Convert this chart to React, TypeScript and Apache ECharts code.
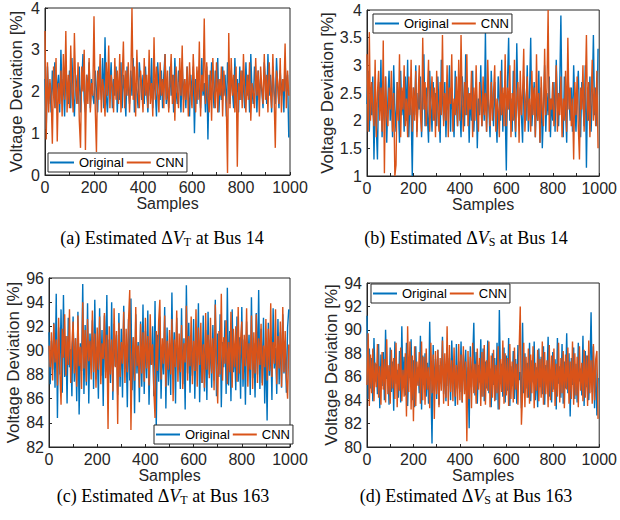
import React, { useEffect, useRef } from "react";
import * as echarts from "echarts";

// Sample spacing between stored points (samples 0..995)
const SAMPLE_STEP = 5;

// (a) Bus 14, ΔV_T
const aOriginal = [
  2.3, 1.1, 2.6, 1.7, 2.2, 1.5, 2.5, 1.9, 2.7, 1.6, 2.1, 2.4, 1.5, 3.0, 1.8, 2.3, 1.4, 2.6, 2.0, 1.7,
  2.5, 1.6, 2.8, 1.9, 1.4, 2.4, 2.1, 1.7, 2.6, 1.5, 2.2, 2.9, 1.8, 1.5, 2.4, 2.0, 2.7, 1.6, 2.3, 1.9,
  1.7, 2.5, 2.0, 1.5, 2.6, 2.2, 1.8, 2.8, 1.6, 3.3, 1.9, 1.5, 2.4, 2.1, 2.7, 1.6, 2.3, 1.9, 2.6, 1.5,
  2.2, 1.8, 2.7, 1.6, 2.4, 2.0, 1.4, 2.6, 2.1, 1.7, 2.5, 1.9, 2.8, 1.5, 2.2, 2.0, 1.6, 2.7, 2.3, 1.8,
  2.4, 1.7, 2.6, 2.0, 1.5, 2.5, 1.9, 2.8, 1.6, 2.3, 2.0, 1.4, 2.7, 2.1, 1.8, 2.5, 1.6, 2.4, 2.9, 1.7,
  2.1, 1.6, 2.6, 1.9, 2.4, 1.5, 2.8, 2.0, 1.7, 2.5, 2.2, 1.5, 2.7, 1.8, 2.3, 1.6, 2.6, 2.0, 1.4, 2.4,
  1.9, 2.6, 1.0, 2.3, 1.7, 2.5, 2.0, 1.6, 2.8, 1.9, 2.2, 1.5, 2.6, 0.85, 2.4, 1.8, 2.7, 2.1, 1.6, 2.5,
  2.0, 2.8, 1.5, 2.3, 1.8, 2.6, 1.9, 2.4, 1.4, 2.7, 2.1, 1.7, 2.5, 2.0, 1.6, 2.8, 1.9, 2.3, 1.5, 2.6,
  1.8, 2.5, 2.1, 1.6, 2.7, 1.9, 2.4, 1.5, 2.9, 2.0, 1.7, 2.6, 2.2, 1.5, 2.5, 1.8, 2.3, 2.0, 1.6, 2.7,
  2.2, 1.7, 2.9, 1.9, 2.4, 1.5, 2.6, 2.0, 1.7, 2.8, 2.1, 1.6, 2.5, 1.9, 2.3, 1.5, 2.7, 2.0, 2.4, 0.9,
];
const aCNN = [
  3.45, 0.85, 2.7, 1.5, 2.3, 1.9, 0.75, 2.6, 1.6, 2.8, 0.8, 2.2, 1.7, 2.5, 1.4, 2.9, 1.8, 3.45, 1.5, 2.4,
  1.6, 3.1, 2.0, 1.5, 3.4, 2.1, 1.7, 2.7, 1.3, 0.65, 2.6, 2.0, 3.0, 0.6, 2.4, 1.7, 2.8, 1.5, 2.2, 1.9,
  3.8, 1.6, 0.55, 2.5, 1.8, 2.9, 1.5, 2.3, 2.0, 1.4, 2.7, 1.9, 3.1, 1.6, 2.4, 2.1, 1.5, 2.8, 1.8, 2.5,
  1.7, 2.9, 1.5, 2.3, 3.2, 1.6, 2.5, 1.9, 2.7, 1.5, 2.2, 4.0, 1.8, 2.6, 1.4, 3.0, 2.0, 1.6, 2.5, 2.1,
  1.5, 2.8, 1.9, 2.4, 1.6, 3.0, 1.7, 2.2, 1.4, 3.3, 1.8, 2.6, 2.0, 1.5, 2.7, 1.9, 2.3, 1.6, 2.9, 1.8,
  2.5, 1.5, 2.2, 2.9, 1.7, 2.4, 1.3, 2.6, 2.0, 1.6, 2.8, 1.9, 3.1, 1.5, 2.3, 1.8, 2.6, 1.4, 2.7, 2.0,
  1.6, 2.9, 2.1, 1.5, 2.6, 1.8, 3.2, 1.4, 2.4, 2.0, 3.75, 1.7, 2.7, 1.9, 1.5, 2.5, 1.3, 2.8, 2.0, 1.6,
  2.7, 1.5, 2.3, 1.9, 2.6, 1.4, 2.5, 2.0, 1.7, 0.05, 3.4, 1.6, 2.8, 1.9, 2.4, 1.5, 2.6, 0.2, 2.2, 1.8,
  2.5, 1.6, 2.9, 2.0, 1.5, 2.4, 1.8, 2.7, 1.3, 2.2, 2.0, 1.6, 2.8, 1.9, 2.5, 1.4, 2.6, 2.1, 1.7, 2.9,
  1.8, 2.4, 1.5, 2.7, 2.0, 1.6, 2.9, 1.9, 0.65, 2.5, 2.2, 1.7, 2.8, 1.5, 2.3, 2.0, 3.15, 1.6, 2.5, 1.9,
];

// (b) Bus 14, ΔV_S
const bOriginal = [
  2.3, 2.9, 1.8, 2.6, 2.1, 2.8, 1.3, 2.4, 1.9, 1.3, 2.7, 2.2, 3.1, 1.7, 2.5, 2.0, 2.8, 1.6, 2.4, 2.9,
  2.0, 2.6, 1.7, 3.0, 2.2, 1.8, 2.7, 2.3, 1.6, 2.9, 2.1, 2.5, 1.8, 2.8, 2.0, 3.1, 1.7, 2.4, 2.2, 1.0,
  2.6, 2.1, 3.0, 1.8, 2.5, 2.2, 2.8, 1.7, 2.4, 3.2, 1.9, 2.6, 2.1, 1.6, 2.9, 2.3, 1.8, 2.7, 2.0, 2.5,
  1.9, 2.8, 2.2, 1.6, 3.1, 2.4, 2.0, 2.7, 1.7, 2.5, 2.2, 3.0, 1.8, 2.6, 2.1, 1.7, 2.9, 2.3, 1.9, 2.6,
  2.2, 1.7, 2.8, 2.4, 1.9, 3.2, 2.1, 2.6, 1.6, 2.5, 2.0, 2.9, 1.8, 2.3, 2.7, 1.5, 2.4, 2.1, 3.0, 1.9,
  2.5, 2.0, 3.6, 1.8, 2.6, 2.2, 1.7, 2.9, 2.3, 1.9, 2.7, 2.1, 1.6, 2.8, 2.4, 2.0, 3.1, 1.8, 2.5, 2.2,
  1.1, 2.7, 3.5, 2.0, 2.4, 1.8, 2.9, 2.2, 1.7, 3.4, 2.3, 1.9, 2.6, 2.1, 1.6, 2.8, 2.4, 2.0, 3.0, 1.8,
  2.5, 3.5, 1.9, 2.3, 2.7, 1.7, 2.4, 2.0, 2.9, 1.6, 2.6, 1.5, 2.2, 3.0, 1.8, 2.5, 2.1, 2.8, 1.7, 2.4,
  2.0, 2.7, 1.8, 3.1, 2.3, 1.9, 2.6, 3.9, 2.1, 1.7, 2.8, 2.2, 1.6, 2.9, 2.4, 2.0, 2.6, 1.8, 3.0, 2.3,
  1.8, 2.5, 2.9, 2.1, 1.7, 2.7, 2.3, 1.9, 3.0, 1.15, 2.6, 2.0, 2.8, 1.8, 2.4, 3.55, 2.1, 2.6, 1.9, 3.3,
];
const bCNN = [
  3.2, 1.8, 3.6, 2.0, 2.7, 2.2, 1.9, 3.1, 1.7, 2.5, 2.9, 2.0, 2.6, 1.8, 3.45, 1.05, 2.8, 2.1, 1.9, 2.6,
  2.2, 2.9, 1.8, 2.5, 1.0, 1.2, 2.7, 2.0, 3.2, 1.7, 2.6, 2.2, 3.0, 1.9, 2.4, 1.7, 2.8, 2.1, 3.1, 1.8,
  2.6, 2.0, 2.9, 1.7, 2.4, 3.0, 2.1, 1.8, 3.5, 2.2, 2.7, 1.9, 2.5, 3.1, 1.8, 2.3, 2.8, 2.0, 2.6, 1.7,
  2.9, 2.2, 1.8, 2.7, 2.1, 3.55, 1.9, 2.5, 2.0, 3.0, 1.7, 2.6, 2.3, 3.2, 1.8, 2.4, 2.1, 2.8, 1.9, 3.1,
  2.0, 3.55, 2.3, 1.8, 2.7, 2.1, 3.2, 1.9, 2.5, 2.2, 2.9, 1.7, 2.6, 2.0, 3.0, 2.2, 1.8, 2.7, 2.3, 1.9,
  2.8, 2.1, 2.5, 1.8, 3.1, 2.3, 1.9, 2.7, 2.0, 2.5, 3.0, 1.8, 2.4, 2.2, 1.7, 2.9, 2.1, 2.6, 1.9, 3.2,
  1.9, 2.6, 2.2, 3.0, 1.7, 2.5, 2.0, 3.1, 1.8, 2.4, 2.7, 1.6, 2.9, 2.1, 2.5, 3.3, 1.8, 2.3, 2.8, 2.0,
  2.4, 1.8, 2.9, 2.1, 2.6, 1.7, 3.2, 2.0, 2.5, 1.6, 2.8, 2.2, 1.9, 3.3, 2.1, 2.6, 4.0, 1.8, 2.4, 2.2,
  2.7, 1.9, 2.3, 3.0, 1.8, 2.5, 2.1, 2.8, 1.7, 2.4, 2.0, 2.9, 1.8, 3.5, 2.2, 2.6, 1.9, 2.4, 1.3, 2.7,
  2.1, 2.8, 1.9, 1.3, 2.6, 2.2, 3.0, 1.8, 2.5, 3.55, 2.0, 2.7, 1.7, 2.4, 3.1, 2.0, 2.6, 1.9, 2.9, 1.5,
];

// (c) Bus 163, ΔV_T
const cOriginal = [
  91.5, 87.2, 90.8, 88.4, 92.3, 86.9, 94.7, 84.4, 91.9, 88.0, 93.4, 86.5, 94.6, 87.8, 91.2, 85.6, 92.7, 88.6, 90.1, 86.2,
  92.8, 87.4, 91.0, 85.8, 93.2, 84.7, 90.6, 88.3, 95.5, 86.4, 92.1, 87.1, 93.9, 85.6, 91.4, 88.9, 92.5, 86.8, 94.2, 87.6,
  90.3, 86.0, 93.5, 87.9, 91.7, 85.4, 92.9, 88.2, 94.6, 86.6, 90.9, 87.3, 94.0, 85.9, 92.2, 88.7, 91.3, 86.3, 93.1, 87.0,
  91.8, 86.1, 93.7, 88.5, 90.4, 85.3, 92.6, 87.5, 94.3, 86.7, 91.1, 84.8, 93.0, 88.1, 90.7, 85.7, 92.4, 87.0, 93.8, 86.4,
  91.6, 87.7, 93.3, 85.5, 90.2, 88.8, 92.0, 86.2, 94.1, 83.5, 91.3, 87.4, 92.8, 86.0, 90.5, 88.0, 93.6, 85.2, 91.9, 87.1,
  90.6, 86.3, 94.8, 87.6, 91.5, 85.6, 92.7, 88.4, 90.0, 86.8, 93.5, 87.2, 91.0, 85.1, 95.4, 88.1, 92.3, 86.5, 90.8, 87.9,
  92.6, 86.0, 91.2, 88.3, 93.9, 85.7, 90.4, 87.3, 92.9, 86.6, 91.7, 85.9, 93.2, 88.0, 90.9, 86.9, 92.1, 87.5, 94.2, 86.2,
  91.4, 87.8, 93.0, 85.3, 90.7, 88.6, 92.5, 86.4, 95.2, 87.1, 91.6, 85.8, 93.4, 88.2, 90.3, 86.7, 92.8, 87.4, 91.1, 86.0,
  93.6, 87.0, 90.9, 85.5, 92.4, 88.4, 91.3, 86.3, 94.4, 87.7, 90.6, 86.1, 93.1, 88.0, 95.0, 86.8, 91.8, 87.3, 92.7, 85.6,
  90.5, 84.2, 92.3, 87.9, 91.0, 85.9, 93.5, 88.5, 90.2, 86.4, 92.6, 87.2, 91.5, 86.9, 93.0, 88.1, 90.8, 86.5, 91.9, 93.4,
];
const cCNN = [
  90.4, 88.6, 91.5, 87.5, 92.2, 89.0, 90.9, 87.1, 92.7, 88.3, 85.5, 91.8, 89.4, 93.0, 87.9, 91.2, 88.8, 93.4, 87.3, 90.6,
  92.4, 88.1, 91.0, 87.0, 92.9, 88.7, 90.3, 86.8, 94.0, 88.5, 91.7, 87.4, 92.6, 89.1, 90.8, 87.6, 93.3, 88.2, 91.4, 86.9,
  91.9, 88.4, 92.8, 87.2, 90.6, 89.3, 93.1, 87.7, 91.3, 83.5, 92.0, 88.0, 90.9, 86.6, 93.5, 88.6, 91.6, 83.9, 92.3, 87.8,
  90.7, 88.9, 93.2, 87.3, 91.8, 88.2, 92.5, 95.0, 83.4, 89.6, 91.1, 87.5, 93.6, 88.7, 90.4, 86.9, 92.2, 88.1, 91.5, 87.4,
  92.7, 88.5, 91.2, 87.1, 93.0, 88.8, 90.5, 86.7, 84.4, 91.6, 88.3, 92.4, 94.2, 87.6, 91.0, 88.9, 92.9, 87.0, 90.8, 88.4,
  91.7, 88.0, 92.6, 85.8, 90.9, 88.6, 93.3, 87.4, 91.4, 88.2, 92.1, 86.8, 90.6, 89.0, 93.7, 87.5, 91.2, 88.7, 92.8, 87.2,
  90.8, 88.3, 93.4, 87.0, 91.9, 88.8, 92.3, 87.3, 90.5, 86.9, 93.1, 88.4, 91.3, 87.7, 92.7, 88.1, 91.0, 86.7, 93.8, 88.5,
  85.6, 91.6, 88.0, 94.7, 87.5, 91.1, 88.9, 92.5, 87.2, 90.7, 88.2, 93.2, 86.9, 91.8, 88.6, 92.0, 87.4, 93.6, 88.1, 90.9,
  92.4, 87.6, 91.3, 88.7, 93.5, 87.0, 90.6, 88.4, 92.9, 86.8, 91.5, 88.1, 93.0, 87.3, 91.0, 88.8, 92.2, 87.1, 90.4, 88.6,
  92.6, 87.5, 91.8, 88.3, 93.9, 87.8, 90.7, 88.9, 93.4, 87.2, 91.2, 88.5, 92.4, 87.0, 93.6, 88.2, 91.6, 87.7, 86.0, 90.5,
];

// (d) Bus 163, ΔV_S
const dOriginal = [
  91.2, 84.1, 88.4, 85.0, 87.6, 83.9, 89.3, 85.6, 87.1, 84.5, 88.8, 83.3, 87.9, 85.2, 88.1, 84.0, 90.0, 85.8, 86.9, 83.6,
  88.5, 84.7, 87.3, 83.1, 89.0, 85.4, 86.6, 84.2, 88.2, 83.8, 90.3, 85.1, 87.7, 84.4, 88.9, 83.5, 87.0, 85.9, 89.2, 84.0,
  87.4, 83.4, 88.6, 85.3, 86.8, 84.6, 89.5, 83.2, 87.8, 85.7, 88.0, 84.3, 87.2, 83.7, 90.7, 85.5, 80.3, 88.7, 84.8, 87.5,
  84.1, 88.3, 83.6, 87.0, 85.4, 89.4, 84.5, 86.9, 83.9, 88.5, 85.2, 87.6, 84.0, 89.1, 85.8, 86.6, 83.5, 88.8, 85.0, 87.3,
  84.7, 89.0, 83.8, 87.9, 85.6, 88.3, 84.2, 86.8, 81.6, 88.6, 85.1, 87.4, 90.6, 84.4, 88.1, 83.7, 87.0, 85.5, 89.2, 84.3,
  88.4, 83.9, 87.3, 85.0, 89.1, 84.6, 86.7, 83.4, 88.0, 85.3, 87.6, 84.0, 88.9, 83.2, 91.7, 85.6, 87.1, 84.3, 88.5, 83.8,
  87.8, 84.8, 89.3, 83.5, 86.9, 85.2, 88.2, 84.1, 87.5, 83.7, 88.7, 85.7, 86.4, 83.3, 90.6, 84.6, 88.0, 85.0, 87.2, 84.2,
  88.9, 83.9, 87.4, 85.5, 89.0, 84.0, 86.8, 83.4, 88.4, 85.1, 87.7, 84.5, 88.6, 83.6, 87.0, 85.8, 89.4, 84.3, 86.6, 83.8,
  88.1, 84.9, 87.5, 83.2, 89.3, 85.4, 86.9, 84.2, 88.8, 83.7, 87.3, 85.0, 89.7, 84.6, 88.0, 82.6, 87.6, 85.3, 88.5, 84.1,
  87.1, 83.8, 88.9, 85.6, 86.7, 84.4, 89.5, 83.5, 88.2, 85.1, 87.8, 84.0, 86.5, 91.5, 84.7, 88.6, 83.3, 87.4, 82.7, 85.9,
];
const dCNN = [
  85.3, 89.7, 83.5, 87.9, 84.6, 88.4, 83.9, 87.2, 85.1, 88.8, 84.2, 86.9, 83.6, 88.1, 84.9, 87.5, 83.8, 89.2, 84.5, 87.0,
  83.7, 88.3, 85.0, 87.6, 84.1, 88.9, 83.4, 87.1, 84.8, 88.5, 83.9, 86.6, 84.3, 88.0, 82.6, 90.3, 84.7, 89.0, 83.2, 87.8,
  82.2, 88.6, 83.5, 87.3, 85.2, 88.1, 83.7, 89.0, 84.0, 87.7, 83.6, 88.4, 84.9, 86.8, 83.3, 88.9, 84.6, 87.9, 82.4, 88.2,
  84.5, 88.3, 83.4, 87.6, 84.8, 89.1, 83.7, 88.0, 84.2, 90.3, 83.5, 88.7, 84.7, 87.4, 83.9, 88.5, 84.3, 87.0, 83.6, 88.8,
  84.0, 87.9, 83.8, 88.6, 84.5, 87.3, 80.5, 88.2, 84.1, 87.7, 83.3, 88.9, 84.6, 87.1, 83.7, 88.4, 84.9, 87.6, 83.5, 88.1,
  84.3, 88.7, 83.6, 87.4, 84.8, 89.0, 83.4, 87.8, 84.2, 88.3, 83.9, 87.0, 84.6, 88.6, 83.2, 87.5, 84.7, 89.1, 83.7, 88.0,
  84.4, 87.6, 83.5, 88.8, 84.1, 87.3, 83.8, 88.5, 84.9, 87.1, 83.6, 88.2, 92.0, 81.9, 84.5, 88.9, 83.4, 87.7, 84.2, 88.4,
  83.7, 87.9, 84.6, 88.6, 83.3, 87.2, 84.8, 88.3, 83.9, 87.5, 84.2, 89.0, 83.6, 88.1, 84.5, 87.4, 83.4, 88.7, 84.0, 87.8,
  84.7, 88.4, 83.5, 87.1, 84.3, 88.9, 83.8, 87.6, 84.6, 88.2, 83.3, 87.9, 84.9, 88.5, 83.7, 87.3, 84.1, 89.0, 83.6, 88.0,
  84.4, 87.7, 83.4, 88.6, 84.8, 87.2, 83.9, 88.3, 84.2, 87.8, 83.5, 89.1, 84.6, 87.4, 83.7, 88.8, 84.0, 87.5, 88.2, 82.4,
];

const seriesNames = ["Original", "CNN"];
const captions = [
  { label: "(a) Estimated Δ", sub: "T", tail: " at Bus 14" },
  { label: "(b) Estimated Δ", sub: "S", tail: " at Bus 14" },
  { label: "(c) Estimated Δ", sub: "T", tail: " at Bus 163" },
  { label: "(d) Estimated Δ", sub: "S", tail: " at Bus 163" },
];
const yRanges = [
  [0, 4, 1],
  [1, 4, 0.5],
  [82, 96, 2],
  [80, 94, 2],
];

const BLUE = "#0072BD";
const ORANGE = "#D95319";
const AXIS = "#262626";
const SANS = "Liberation Sans, Arial, sans-serif";
const SERIF = "Liberation Serif, Times New Roman, serif";

const layout = [
  { grid: { left: 45, top: 5, width: 245, height: 170 }, legend: { left: 48, top: 153 }, nameGap: 20, caption: [162, 238] },
  { grid: { left: 367, top: 10, width: 239, height: 166 }, legend: { left: 373, top: 14 }, nameGap: 25, caption: [466, 238] },
  { grid: { left: 49, top: 278, width: 241, height: 169 }, legend: { left: 154, top: 425 }, nameGap: 24, caption: [163, 496] },
  { grid: { left: 367, top: 283, width: 239, height: 164 }, legend: { left: 371, top: 284 }, nameGap: 25, caption: [466, 496] },
];

const toPairs = (vals: number[]) => vals.map((v, i) => [i * SAMPLE_STEP, v]);

export default function App() {
  const ref = useRef<HTMLDivElement>(null);
  useEffect(() => {
    if (!ref.current) return;
    const chart = echarts.init(ref.current, null, { renderer: "svg" });
    const data = [
      [aOriginal, aCNN],
      [bOriginal, bCNN],
      [cOriginal, cCNN],
      [dOriginal, dCNN],
    ];
    const grids: any[] = [];
    const xAxes: any[] = [];
    const yAxes: any[] = [];
    const legends: any[] = [];
    const series: any[] = [];
    const graphics: any[] = [];
    layout.forEach((L, i) => {
      grids.push({ ...L.grid, show: true, borderColor: AXIS, borderWidth: 1, backgroundColor: "transparent", containLabel: false });
      xAxes.push({
        gridIndex: i,
        type: "value",
        min: 0,
        max: 1000,
        interval: 100,
        axisLine: { show: true, onZero: false, lineStyle: { color: AXIS, width: 1 } },
        axisTick: { show: true, inside: true, length: 3, lineStyle: { color: AXIS } },
        axisLabel: {
          fontSize: 16,
          color: AXIS,
          fontFamily: SANS,
          margin: 4,
          formatter: (v: number) => (v % 200 === 0 ? String(v) : ""),
        },
        splitLine: { show: false },
        name: "Samples",
        nameLocation: "middle",
        nameGap: 17,
        nameTextStyle: { fontSize: 16, color: AXIS, fontFamily: SANS },
      });
      const [ymin, ymax, yint] = yRanges[i];
      yAxes.push({
        gridIndex: i,
        type: "value",
        min: ymin,
        max: ymax,
        interval: yint,
        axisLine: { show: true, onZero: false, lineStyle: { color: AXIS, width: 1 } },
        axisTick: { show: true, inside: true, length: 3, lineStyle: { color: AXIS } },
        axisLabel: { fontSize: 16, color: AXIS, fontFamily: SANS, margin: 5 },
        splitLine: { show: false },
        name: "Voltage Deviation [%]",
        nameLocation: "middle",
        nameGap: L.nameGap,
        nameTextStyle: { fontSize: 17, color: AXIS, fontFamily: SANS },
      });
      legends.push({
        left: L.legend.left,
        top: L.legend.top,
        orient: "horizontal",
        data: seriesNames,
        icon: "rect",
        itemWidth: 24,
        itemHeight: 2,
        itemGap: 3,
        padding: [3, 3, 3, 2],
        borderColor: AXIS,
        borderWidth: 1,
        borderRadius: 0,
        backgroundColor: "#ffffff",
        selectedMode: false,
        textStyle: { fontSize: 13, color: "#000", fontFamily: SANS },
        z: 10,
      });
      data[i].forEach((vals, k) => {
        series.push({
          name: seriesNames[k],
          type: "line",
          xAxisIndex: i,
          yAxisIndex: i,
          data: toPairs(vals),
          symbol: "none",
          showSymbol: false,
          color: k === 0 ? BLUE : ORANGE,
          lineStyle: { width: 1.4, color: k === 0 ? BLUE : ORANGE },
          z: 2 + k,
          silent: true,
        });
      });
      const c = captions[i];
      graphics.push({
        type: "text",
        x: L.caption[0],
        y: L.caption[1],
        style: {
          text: `{n|${c.label}}{i|V}{s|${c.sub}}{n|${c.tail}}`,
          align: "center",
          verticalAlign: "middle",
          fill: "#000",
          rich: {
            n: { fontFamily: SERIF, fontSize: 18, fill: "#000" },
            i: { fontFamily: SERIF, fontSize: 18, fontStyle: "italic", fill: "#000" },
            s: { fontFamily: SERIF, fontSize: 12, fill: "#000", padding: [7, 0, 0, 0] },
          },
        },
      });
    });
    chart.setOption({
      animation: false,
      backgroundColor: "#ffffff",
      textStyle: { fontFamily: SANS },
      grid: grids,
      xAxis: xAxes,
      yAxis: yAxes,
      legend: legends,
      series,
      graphic: graphics,
    });
    return () => chart.dispose();
  }, []);
  return <div ref={ref} style={{ position: "absolute", left: 0, top: 0, width: 620, height: 520 }} />;
}
